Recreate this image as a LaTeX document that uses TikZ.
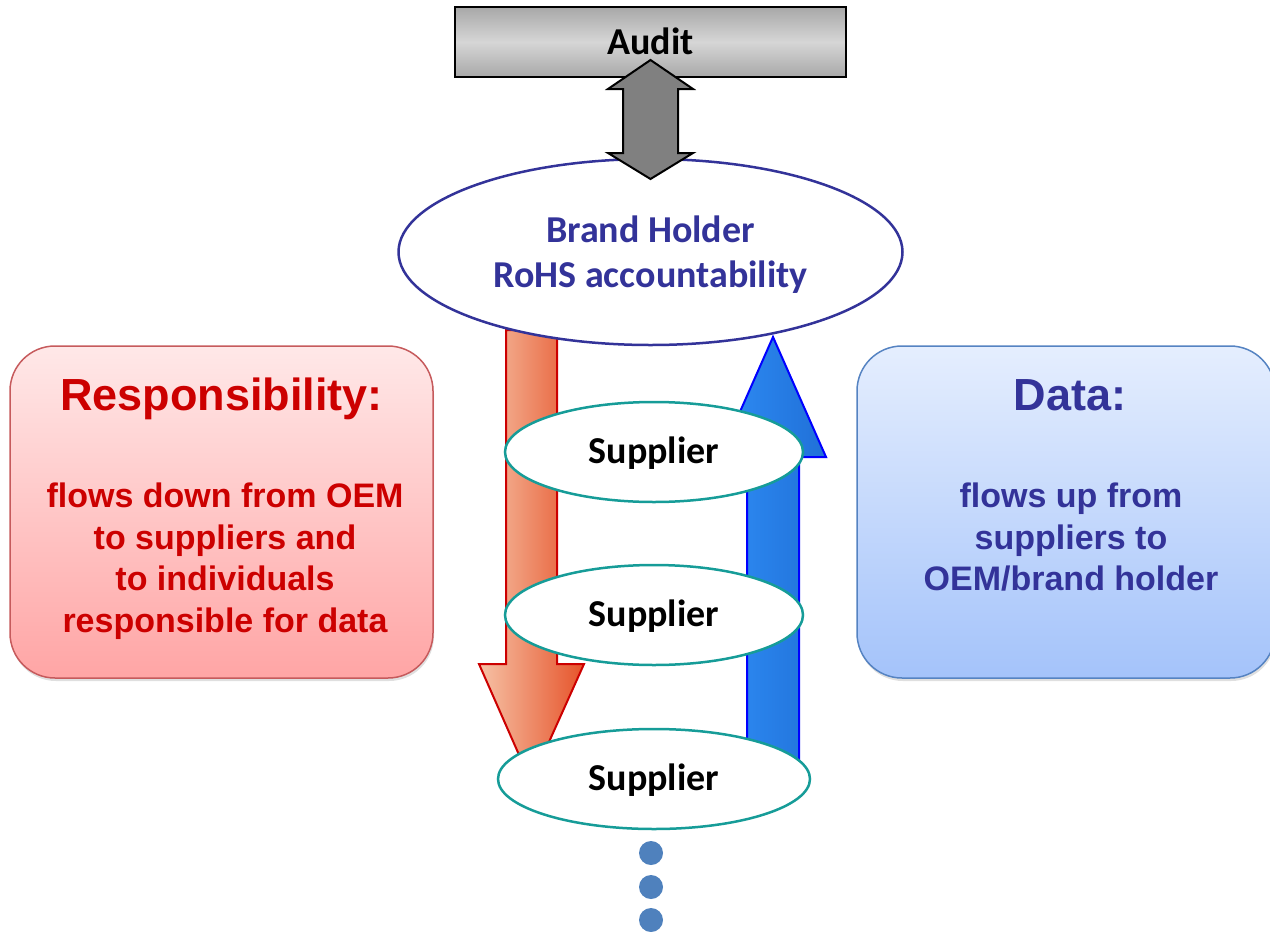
\documentclass[tikz,border=0pt]{standalone}
\usepackage{fontspec}
\setmainfont{Carlito}
\newfontfamily\arialfont{Liberation Sans}
\usetikzlibrary{shapes.geometric,shadows}
\definecolor{navy}{HTML}{333399}
\definecolor{rtext}{HTML}{CC0000}
\definecolor{tealline}{HTML}{169C98}
\definecolor{dotblue}{HTML}{4F81BD}
\definecolor{rboxline}{HTML}{C65A5C}
\definecolor{bboxline}{HTML}{5583C2}
\definecolor{rtop}{HTML}{FFE8E8}
\definecolor{rbot}{HTML}{FFA5A5}
\definecolor{btop}{HTML}{E5EEFE}
\definecolor{bbot}{HTML}{A4C3FA}
\definecolor{aedge}{HTML}{A8A8A8}
\definecolor{amid}{HTML}{D6D6D6}
\definecolor{arrgray}{HTML}{808080}
\definecolor{rleft}{HTML}{F6C2A6}
\definecolor{rright}{HTML}{E6532A}
\definecolor{bleft}{HTML}{2E8CF4}
\definecolor{bmid}{HTML}{3A9DFF}
\definecolor{bright}{HTML}{2070D8}
\begin{document}
\begin{tikzpicture}[x=1pt,y=-1pt,
  cal/.style={font=\fontsize{38}{45}\selectfont\bfseries},
  supplier/.style={ellipse, draw=tealline, line width=2.5pt, fill=white,
    minimum width=298pt, minimum height=100pt, inner sep=0pt, cal,
    text height=30pt, text depth=8pt},
  infobox/.style={rectangle, rounded corners=45pt, line width=1.5pt,
    minimum width=423pt, minimum height=332pt, inner sep=0pt,
    drop shadow={shadow xshift=1pt, shadow yshift=-3pt, opacity=0.25}},
  boxtitle/.style={font=\arialfont\fontsize{45}{54}\selectfont\bfseries, inner sep=0pt, anchor=base},
  boxbody/.style={font=\arialfont\fontsize{34}{41.5}\selectfont\bfseries, inner sep=0pt, align=center, anchor=north},
  blockarrow/.style={line width=2pt, line join=miter},
  dot/.style={circle, fill=dotblue, minimum size=24pt, inner sep=0pt}
]
\useasboundingbox (0,0) rectangle (1270,932);

% side boxes
\node[infobox, draw=rboxline, top color=rtop, bottom color=rbot] (resp) at (221.5,512) {};
\node[boxtitle, text=rtext] (resptitle) at (221.5,410) {Responsibility:};
\node[boxbody, text=rtext] (respbody) at (225,483) {flows down from OEM\\to suppliers and\\to individuals\\responsible for data};

\node[infobox, minimum width=418pt, draw=bboxline, top color=btop, bottom color=bbot] (data) at (1066,512) {};
\node[boxtitle, text=navy] (datatitle) at (1070,410) {Data:};
\node[boxbody, text=navy] (databody) at (1071,483) {flows up from\\suppliers to\\OEM/brand holder};

% block arrows
\draw[blockarrow, draw=rtext, left color=rleft, right color=rright]
  (506,330) -- (557,330) -- (557,664) -- (584,664) -- (531,782) -- (479,664) -- (506,664) -- cycle;
\draw[blockarrow, draw=blue, left color=bleft, middle color=bmid, right color=bright]
  (747,760) -- (747,457) -- (720,457) -- (773,337) -- (826,457) -- (799,457) -- (799,760) -- cycle;

% audit and brand holder
\node[rectangle, draw=black, line width=2.5pt, minimum width=391pt, minimum height=70pt,
  top color=aedge, bottom color=aedge, middle color=amid, cal, inner sep=0pt,
  text height=27pt, text depth=2pt] (audit) at (650.5,42) {Audit};
\node[ellipse, draw=navy, line width=2.5pt, fill=white, minimum width=504pt, minimum height=186pt,
  cal, text=navy, align=center, inner sep=0pt] (brand) at (650.5,252)
  {\rule{0pt}{32pt}Brand Holder\\RoHS accountability};

\draw[blockarrow, fill=arrgray, draw=black]
  (650.5,60) -- (693,89) -- (678,89) -- (678,153) -- (693,153) -- (650.5,179)
  -- (608,153) -- (623,153) -- (623,89) -- (608,89) -- cycle;

% suppliers
\node[supplier] (s1) at (654,452) {Supplier};
\node[supplier] (s2) at (654,615) {Supplier};
\node[supplier, minimum width=312pt] (s3) at (654,779) {Supplier};

% dots
\node[dot] (d1) at (651,853) {};
\node[dot] (d2) at (651,887) {};
\node[dot] (d3) at (651,920) {};
\end{tikzpicture}
\end{document}
